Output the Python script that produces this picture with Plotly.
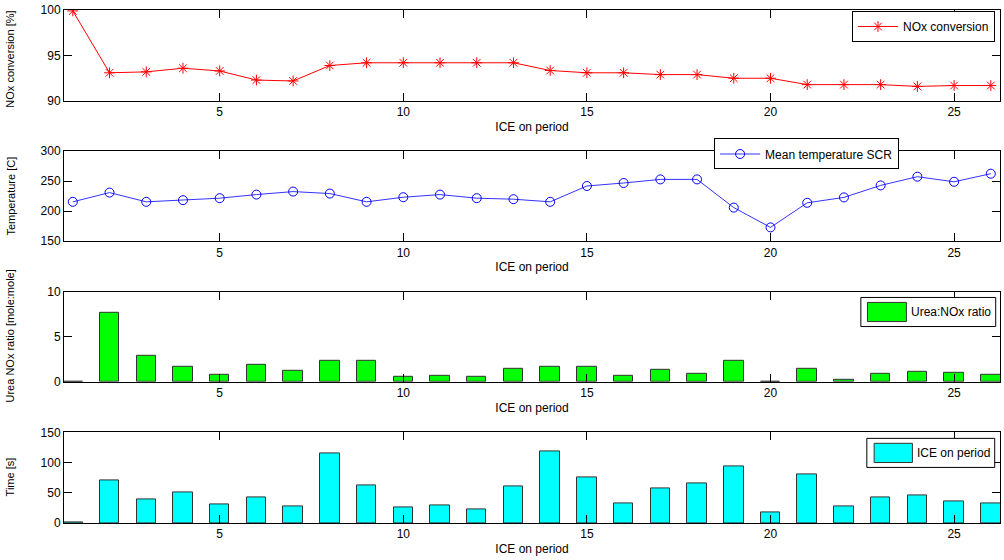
import plotly.graph_objects as go

# ---------------- data ----------------
periods = list(range(1, 27))
nox_conversion = [99.9, 93.1, 93.2, 93.6, 93.3, 92.3, 92.2, 93.9, 94.2, 94.2, 94.2, 94.2, 94.2,
                  93.35, 93.1, 93.1, 92.9, 92.9, 92.5, 92.5, 91.8, 91.8, 91.8, 91.6, 91.7, 91.7]
mean_temp = [215.6, 231, 215.6, 218.4, 221.7, 227.7, 232.7, 229.4, 215.6, 223.3, 227.7, 221.7, 220,
             215.6, 242, 247, 253, 253, 206, 173, 214, 223, 243, 257.5, 249, 262.5]
urea_nox = [0.05, 7.65, 2.87, 1.62, 0.77, 1.91, 1.21, 2.35, 2.35, 0.59, 0.70, 0.59, 1.47,
            1.62, 1.69, 0.70, 1.32, 0.92, 2.35, 0.03, 1.5, 0.26, 0.92, 1.14, 1.03, 0.81]
ice_on = [1.5, 70, 38.9, 50.4, 31.2, 42.1, 27.9, 114.9, 62.4, 25.2, 29.6, 21.9, 60.2,
          118.2, 75, 32.8, 57.5, 65.7, 93, 17.5, 79.9, 26.8, 42.1, 45.4, 36.1, 32.8]

x_ticks = [5, 10, 15, 20, 25]
x_title = "ICE on period"
y_titles = ["NOx conversion [%]", "Temperature [C]", "Urea NOx ratio [mole:mole]", "Time [s]"]
series_names = ["NOx conversion", "Mean temperature SCR", "Urea:NOx ratio", "ICE on period"]

# ---------------- layout geometry ----------------
W, H = 1004, 560
ML, MR, MT, MB = 64, 3, 6, 37
PW, PH = W - ML - MR, H - MT - MB


def px_x(px):
    return (px - ML) / PW


def px_y(py):
    return (H - MB - py) / PH


panel_px = [(6, 97.7), (148.3, 239), (290, 380.7), (431.7, 523)]
domains = [[px_y(b), px_y(t)] for t, b in panel_px]
ytitle_centers = [56, 194, 335, 477]

SANS = "Liberation Sans, Arial, sans-serif"

fig = go.Figure()

fig.add_trace(go.Scatter(
    x=periods, y=nox_conversion, name=series_names[0], mode="lines+markers",
    line=dict(color="#FF0000", width=1),
    marker=dict(symbol="asterisk-open", size=9, color="#FF0000", line=dict(color="#FF0000", width=1)),
    xaxis="x", yaxis="y", legend="legend"))

fig.add_trace(go.Scatter(
    x=periods, y=mean_temp, name=series_names[1], mode="lines+markers",
    line=dict(color="#3333FF", width=1),
    marker=dict(symbol="circle-open", size=9, color="#0000FF", line=dict(color="#0000FF", width=1)),
    xaxis="x2", yaxis="y2", legend="legend2"))

fig.add_trace(go.Bar(
    x=periods, y=urea_nox, name=series_names[2], width=0.53,
    marker=dict(color="#00FF00", line=dict(color="#333333", width=1)),
    xaxis="x3", yaxis="y3", showlegend=False))

fig.add_trace(go.Bar(
    x=periods, y=ice_on, name=series_names[3], width=0.53,
    marker=dict(color="#00FFFF", line=dict(color="#333333", width=1)),
    xaxis="x4", yaxis="y4", showlegend=False))

y_ranges = [[90, 100], [150, 300], [0, 10], [0, 150]]
y_dticks = [5, 50, 5, 50]

layout = dict(
    width=W, height=H,
    margin=dict(l=ML, r=MR, t=MT, b=MB),
    paper_bgcolor="white", plot_bgcolor="white",
    bargap=0,
    font=dict(family=SANS, size=12, color="black"),
)

for i in range(4):
    sfx = "" if i == 0 else str(i + 1)
    layout["xaxis" + sfx] = dict(
        domain=[0, 1], anchor="y" + sfx, range=[0.76, 26.25],
        tickmode="array", tickvals=x_ticks, ticks="inside", ticklen=8, tickcolor="black",
        showline=True, linecolor="black", linewidth=1, mirror="ticks",
        showgrid=False, zeroline=False,
        tickfont=dict(family=SANS, size=12, color="black"),
        title=dict(text=x_title, font=dict(family=SANS, size=12, color="black"), standoff=4),
    )
    layout["yaxis" + sfx] = dict(
        domain=domains[i], anchor="x" + sfx, range=y_ranges[i], dtick=y_dticks[i],
        ticks="inside", ticklen=8, tickcolor="black",
        showline=True, linecolor="black", linewidth=1, mirror="ticks",
        showgrid=False, zeroline=False,
        tickfont=dict(family=SANS, size=12, color="black"),
    )

layout["legend"] = dict(
    x=px_x(996), y=px_y(7), xanchor="right", yanchor="top",
    bordercolor="black", borderwidth=1, bgcolor="white",
    font=dict(family=SANS, size=12, color="black"), itemwidth=40)
layout["legend2"] = dict(
    x=px_x(900), y=px_y(135.5), xanchor="right", yanchor="top",
    bordercolor="black", borderwidth=1, bgcolor="white",
    font=dict(family=SANS, size=12, color="black"), itemwidth=40)

fig.update_layout(**layout)

# y-axis titles
for i, t in enumerate(y_titles):
    fig.add_annotation(
        text=t, xref="paper", yref="paper", x=px_x(10), y=px_y(ytitle_centers[i]),
        xanchor="center", yanchor="middle", textangle=-90, showarrow=False,
        font=dict(family=SANS, size=11, color="black"))

# manual legends for the bar panels
bar_legends = [
    (series_names[2], "#00FF00", (861.7, 295.7, 996.7, 325), (868.3, 300.7, 907.3, 320)),
    (series_names[3], "#00FFFF", (867.7, 437.7, 995.7, 467), (875, 442.7, 913.3, 462)),
]
for name, col, box, sw in bar_legends:
    fig.add_shape(type="rect", xref="paper", yref="paper",
                  x0=px_x(box[0]), x1=px_x(box[2]), y0=px_y(box[3]), y1=px_y(box[1]),
                  line=dict(color="black", width=1), fillcolor="white", layer="above")
    fig.add_shape(type="rect", xref="paper", yref="paper",
                  x0=px_x(sw[0]), x1=px_x(sw[2]), y0=px_y(sw[3]), y1=px_y(sw[1]),
                  line=dict(color="#333333", width=1), fillcolor=col, layer="above")
    fig.add_annotation(text=name, xref="paper", yref="paper",
                       x=px_x(sw[2] + 3), y=px_y((box[1] + box[3]) / 2),
                       xanchor="left", yanchor="middle", showarrow=False,
                       font=dict(family=SANS, size=12, color="black"))

fig.write_html("out.html", config={"displayModeBar": False},
               post_script="document.body.style.margin='0';document.body.style.padding='0';")
